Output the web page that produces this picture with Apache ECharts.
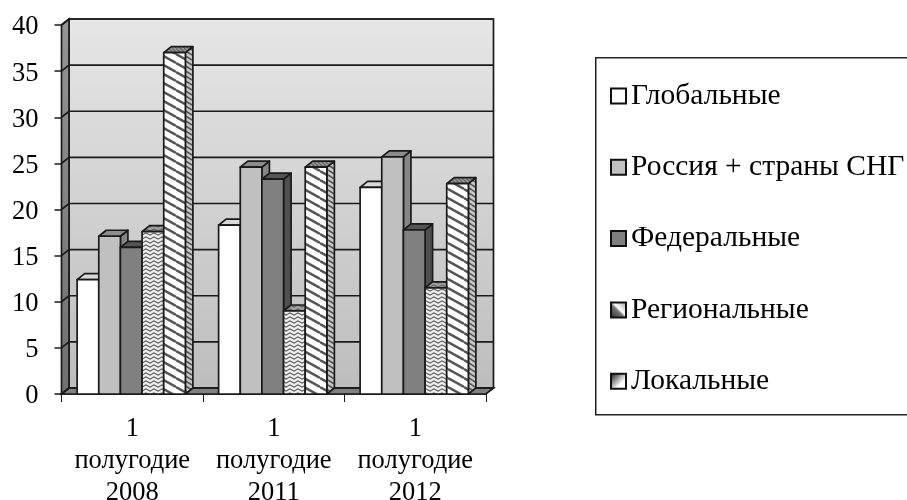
<!DOCTYPE html>
<html>
<head>
<meta charset="utf-8">
<style>
  html, body { margin: 0; padding: 0; background: #fff; }
  #chart { width: 907px; height: 500px; }
</style>
<script src="https://cdn.jsdelivr.net/npm/echarts@6/dist/echarts.min.js"></script>
</head>
<body>
<div id="chart"></div>
<script>
// data
const categories = ['1\nполугодие\n2008', '1\nполугодие\n2011', '1\nполугодие\n2012'];
const seriesNames = ['Глобальные', 'Россия + страны СНГ', 'Федеральные', 'Региональные', 'Локальные'];
const globalValues = [12.4, 18.3, 22.4];
const russiaValues = [17.1, 24.6, 25.7];
const federalValues = [15.9, 23.3, 17.8];
const regionalValues = [17.6, 9.0, 11.5];
const localValues = [37.0, 24.6, 22.8];
const yTicks = [0, 5, 10, 15, 20, 25, 30, 35, 40];

const FONT = '"Liberation Serif", "Times New Roman", serif';
const DX = 7.5, DY = 6;   // fake 3d depth
const LINE = '#1a1a1a';

function wavePattern(bg, line) {
    let c = document.createElement('canvas');
    c.width = 8; c.height = 4;
    let g = c.getContext('2d');
    g.fillStyle = bg;
    g.fillRect(0, 0, 8, 4);
    g.strokeStyle = line;
    g.lineWidth = 1.2;
    g.beginPath();
    g.moveTo(0, 2); g.lineTo(2, 1); g.lineTo(4, 2); g.lineTo(6, 3); g.lineTo(8, 2);
    g.stroke();
    return { image: c, repeat: 'repeat' };
}

// slanted stripes, tile w x h so the lines meet at the tile edges
function stripePattern(bg, line, w, h, width) {
    let c = document.createElement('canvas');
    c.width = w; c.height = h;
    let g = c.getContext('2d');
    g.fillStyle = bg;
    g.fillRect(0, 0, w, h);
    g.strokeStyle = line;
    g.lineWidth = width;
    for (let k = -1; k <= 1; k++) {
        g.beginPath();
        g.moveTo(0, k * h);
        g.lineTo(w, k * h + h);
        g.stroke();
    }
    return { image: c, repeat: 'repeat' };
}

const faces = [
    { front: '#ffffff', top: '#d9d9d9', side: '#c4c4c4' },
    { front: '#c0c0c0', top: '#8c8c8c', side: '#868686' },
    { front: '#808080', top: '#555555', side: '#4f4f4f' },
    { front: wavePattern('#ececec', '#666666'), top: wavePattern('#a0a0a0', '#666666'), side: '#777777' },
    { front: stripePattern('#ffffff', '#555555', 16, 9, 2.4), top: stripePattern('#999999', '#666666', 4, 4, 1.5), side: stripePattern('#c8c8c8', '#555555', 8, 5, 1.6) }
];
const legendFills = [
    '#ffffff',
    '#c0c0c0',
    '#808080',
    new echarts.graphic.LinearGradient(0, 1, 1, 0, [
        { offset: 0, color: '#222' }, { offset: 0.45, color: '#777' }, { offset: 0.55, color: '#fff' }, { offset: 1, color: '#999' }
    ]),
    new echarts.graphic.LinearGradient(0, 0, 1, 1, [
        { offset: 0, color: '#000' }, { offset: 0.65, color: '#fff' }, { offset: 1, color: '#fff' }
    ])
];

function poly(points, style) {
    return { type: 'polygon', shape: { points: points }, style: style };
}

// back wall, side wall, floor and the grid lines
function renderWall(params, api) {
    let left = params.coordSys.x, right = left + params.coordSys.width;
    let top = api.coord([0, 40])[1], bottom = api.coord([0, 0])[1];
    let edge = { stroke: LINE, lineWidth: 1.7 };
    let children = [
        poly([[left + DX, top - DY], [right + DX, top - DY], [right + DX, bottom - DY], [left + DX, bottom - DY]], {
            fill: new echarts.graphic.LinearGradient(0, 0, 0, 1, [
                { offset: 0, color: '#e6e6e6' }, { offset: 1, color: '#bdbdbd' }
            ]),
            ...edge
        }),
        poly([[left, top], [left + DX, top - DY], [left + DX, bottom - DY], [left, bottom]], {
            fill: new echarts.graphic.LinearGradient(0, 0, 0, 1, [
                { offset: 0, color: '#949494' }, { offset: 1, color: '#707070' }
            ]),
            ...edge
        }),
        poly([[left, bottom], [left + DX, bottom - DY], [right + DX, bottom - DY], [right, bottom]], { fill: '#808080', ...edge })
    ];
    yTicks.forEach(t => {
        let y = api.coord([0, t])[1];
        children.push({
            type: 'polyline',
            shape: { points: [[left, y], [left + DX, y - DY], [right + DX, y - DY]] },
            style: { fill: null, stroke: LINE, lineWidth: 1.7 }
        });
    });
    return { type: 'group', children: children };
}

function barRenderer(index) {
    return function (params, api) {
        let p = api.coord([api.value(0), api.value(1)]);
        let base = api.coord([api.value(0), 0])[1];
        let catW = api.size([1, 0])[0];
        let w = catW * 0.153;
        let x0 = p[0] + (index - 2.5) * w - 1;
        let x1 = x0 + w;
        let y = p[1];
        let f = faces[index];
        let edge = { stroke: LINE, lineWidth: 1.7, lineJoin: 'round' };
        return {
            type: 'group',
            children: [
                poly([[x1, y], [x1 + DX, y - DY], [x1 + DX, base - DY], [x1, base]], { fill: f.side, ...edge }),
                poly([[x0, y], [x0 + DX, y - DY], [x1 + DX, y - DY], [x1, y]], { fill: f.top, ...edge }),
                poly([[x0, y], [x1, y], [x1, base], [x0, base]], { fill: f.front, ...edge })
            ]
        };
    };
}

function barData(values) {
    return values.map((v, i) => [i, v]);
}

const allValues = [globalValues, russiaValues, federalValues, regionalValues, localValues];

let option = {
    animation: false,
    backgroundColor: '#ffffff',
    textStyle: { fontFamily: FONT },
    grid: { left: 61.5, top: 25, width: 424.5, height: 369, containLabel: false, outerBoundsMode: 'none' },
    xAxis: {
        type: 'category',
        data: categories,
        axisLine: { show: true, lineStyle: { color: LINE, width: 1.7 } },
        axisTick: { show: true, length: 8, lineStyle: { color: LINE, width: 1 } },
        axisLabel: { color: '#000', fontFamily: FONT, fontSize: 26.5, lineHeight: 32, margin: 19, interval: 0 }
    },
    yAxis: {
        type: 'value',
        min: 0,
        max: 40,
        interval: 5,
        splitLine: { show: false },
        axisLine: { show: true, lineStyle: { color: LINE, width: 1.7 } },
        axisTick: { show: true, length: 7, lineStyle: { color: '#333', width: 1.7 } },
        axisLabel: {
            margin: 23,
            formatter: '{n|{value}}',
            rich: { n: { color: '#000', fontFamily: FONT, fontSize: 26.5, padding: [5, 0, 0, 0] } }
        }
    },
    legend: {
        orient: 'vertical',
        left: 605,
        top: 76,
        itemWidth: 15,
        itemHeight: 15,
        itemGap: 41.3,
        selectedMode: false,
        textStyle: { color: '#000', fontFamily: FONT, fontSize: 29.5, lineHeight: 30 },
        data: seriesNames.map((name, i) => ({
            name: name,
            icon: 'rect',
            itemStyle: { color: legendFills[i], borderColor: '#111', borderWidth: 2 }
        }))
    },
    graphic: [{
        type: 'rect',
        left: 595,
        top: 57,
        shape: { width: 330, height: 357 },
        style: { fill: '#fff', stroke: '#222', lineWidth: 1.5 },
        z: -1
    }],
    series: [
        {
            type: 'custom',
            name: 'wall',
            silent: true,
            z: 1,
            coordinateSystem: 'cartesian2d',
            renderItem: renderWall,
            data: [[0, 0]]
        }
    ].concat(seriesNames.map((name, i) => ({
        type: 'custom',
        name: name,
        z: 2 + i,
        renderItem: barRenderer(i),
        encode: { x: 0, y: 1 },
        data: barData(allValues[i])
    })))
};

let chart = echarts.init(document.getElementById('chart'));
chart.setOption(option);
</script>
</body>
</html>
